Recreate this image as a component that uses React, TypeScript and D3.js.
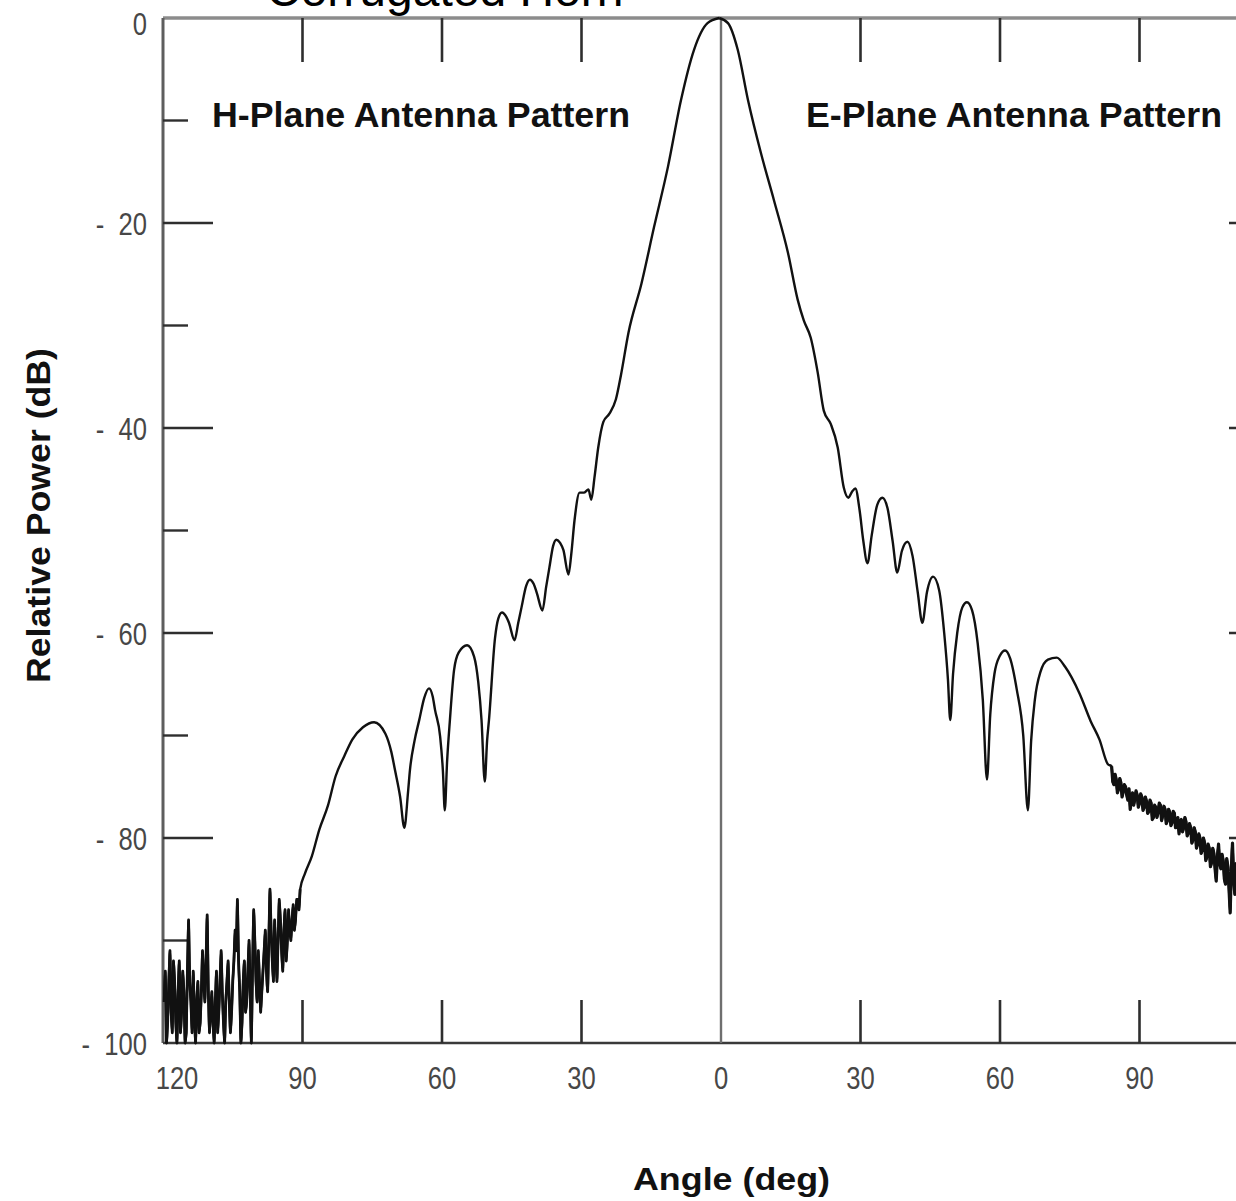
import React, { useEffect } from "react";
import * as d3 from "d3";

// H-plane pattern (left half, angles negative = H-plane side)
const hPlaneAngle = [
  -119.75, -119.5, -119.25, -119, -118.75, -118.5, -118.25, -118, -117.75, -117.5,
  -117.25, -117, -116.75, -116.5, -116.25, -116, -115.75, -115.5, -115.25, -115,
  -114.75, -114.5, -114.25, -114, -113.75, -113.5, -113.25, -113, -112.75, -112.5,
  -112.25, -112, -111.75, -111.5, -111.25, -111, -110.75, -110.5, -110.25, -110,
  -109.75, -109.5, -109.25, -109, -108.75, -108.5, -108.25, -108, -107.75, -107.5,
  -107.25, -107, -106.75, -106.5, -106.25, -106, -105.75, -105.5, -105.25, -105,
  -104.75, -104.5, -104.25, -104, -103.75, -103.5, -103.25, -103, -102.75, -102.5,
  -102.25, -102, -101.75, -101.5, -101.25, -101, -100.75, -100.5, -100.25, -100,
  -99.75, -99.5, -99.25, -99, -98.75, -98.5, -98.25, -98, -97.75, -97.5,
  -97.25, -97, -96.75, -96.5, -96.25, -96, -95.75, -95.5, -95.25, -95,
  -94.75, -94.5, -94.25, -94, -93.75, -93.5, -93.25, -93, -92.75, -92.5,
  -92.25, -92, -91.75, -91.5, -91.25, -91, -90.75, -90.5,
  -89.5, -88, -86.4, -84.5, -82.9, -81, -79.3, -77, -74.6, -72.2,
  -70.9, -70.1, -69, -68.1, -67.3, -66.9, -65.9, -64.9, -63.8, -62.8,
  -62, -61.5, -60.4, -59.8, -59.4, -58.9, -58.3, -57.4, -56.4, -54.6,
  -53.1, -52.2, -51.5, -50.8, -50.3, -49.9, -48.6, -47.9, -47.1, -46.2,
  -45.6, -44.4, -43.6, -42.9, -41.9, -41.1, -40.3, -39.6, -38.4, -37.6,
  -36.9, -36.1, -35.4, -34.6, -33.9, -32.8, -32.2, -31.5, -30.4, -29.5,
  -28.5, -27.9, -27.2, -26.4, -25.3, -24, -22.6, -21.5, -19.9, -17.1,
  -14.4, -11.4, -8.6, -5.8, -2.9, -0.4,
];
const hPlanePower = [
  -96, -93, -100, -98, -94, -91, -97, -99, -92, -94,
  -98, -100, -95, -92, -99, -97, -93, -95, -100, -99,
  -93, -88, -94, -96, -99, -93, -97, -100, -96, -94,
  -99, -98, -95, -91, -94, -96, -92, -87.5, -95, -99,
  -97, -95, -98, -100, -96, -93, -99, -97, -94, -91,
  -95, -98, -100, -96, -94, -92, -96, -99, -97, -94,
  -92, -89, -91, -86, -92, -95, -100, -98, -94, -92,
  -97, -96, -93, -90, -95, -100, -93, -87, -90, -94,
  -96, -91, -94, -97, -95, -93, -91, -89, -93, -95,
  -90, -85, -89, -92, -94, -88, -91, -94, -90, -86,
  -88, -91, -93, -89, -87, -92, -90, -87, -89, -90,
  -88, -86.5, -89, -88, -86, -86, -87, -85,
  -83.5, -81.8, -79.2, -76.8, -74.0, -72.0, -70.4, -69.2, -68.7, -69.8,
  -71.6, -73.4, -76, -79.0, -75.5, -73.4, -70.5, -68.5, -66.3, -65.4,
  -66.2, -67.5, -70.1, -73.5, -77.3, -72.5, -68.5, -63.6, -61.9, -61.2,
  -62.3, -64.8, -68.5, -74.5, -70.5, -68.5, -60.5, -58.6, -58.0, -58.4,
  -59.0, -60.7, -59.0, -57.5, -55.4, -54.8, -55.2, -56.1, -57.8, -55.5,
  -53.6, -51.5, -50.9, -51.2, -51.9, -54.3, -52.3, -49.0, -46.3, -46.3,
  -46.0, -47.0, -44.8, -41.9, -39.4, -38.6, -37.2, -34.8, -30.7, -25.9,
  -20.4, -14.5, -8.0, -3.1, -0.5, 0,
];

// E-plane pattern (right half)
const ePlaneAngle = [
  -0.4, 1.5, 3.6, 5.8, 8.6, 11.4, 14.4, 16.5, 17.8, 19.3,
  20.8, 22.1, 23.6, 25.1, 26.4, 27.4, 28.2, 28.9, 29.8, 30.6,
  31.5, 32.4, 33.6, 34.7, 35.8, 36.9, 37.9, 38.9, 40.1, 41.2,
  42.3, 43.3, 44.3, 45.6, 46.9, 48, 48.8, 49.3, 49.9, 50.8,
  51.9, 52.9, 54, 55.2, 56.3, 57.2, 57.9, 58.8, 60, 61.1,
  62.2, 63.6, 65, 66, 66.7, 67.5, 68.7, 70.3, 72.2, 74,
  77.1, 79.5, 81.4, 83.2,
  84, 84.25, 84.5, 84.75, 85, 85.25, 85.5, 85.75, 86, 86.25,
  86.5, 86.75, 87, 87.25, 87.5, 87.75, 88, 88.25, 88.5, 88.75,
  89, 89.25, 89.5, 89.75, 90, 90.25, 90.5, 90.75, 91, 91.25,
  91.5, 91.75, 92, 92.25, 92.5, 92.75, 93, 93.25, 93.5, 93.75,
  94, 94.25, 94.5, 94.75, 95, 95.25, 95.5, 95.75, 96, 96.25,
  96.5, 96.75, 97, 97.25, 97.5, 97.75, 98, 98.25, 98.5, 98.75,
  99, 99.25, 99.5, 99.75, 100, 100.25, 100.5, 100.75, 101, 101.25,
  101.5, 101.75, 102, 102.25, 102.5, 102.75, 103, 103.25, 103.5, 103.75,
  104, 104.25, 104.5, 104.75, 105, 105.25, 105.5, 105.75, 106, 106.25,
  106.5, 106.75, 107, 107.25, 107.5, 107.75, 108, 108.25, 108.5, 108.75,
  109, 109.25, 109.5, 109.75, 110, 110.25, 110.5, 110.75, 111, 111.25,
  111.5, 111.75, 112,
];
const ePlanePower = [
  0, -0.5, -3.1, -8.0, -13.2, -17.8, -22.9, -27.5, -29.5, -31.2,
  -34.6, -38.3, -39.6, -41.9, -45.8, -46.8, -46.2, -45.9, -48.0, -51,
  -53.2, -50.5, -47.5, -46.8, -47.8, -51, -54.1, -52, -51.1, -52.5,
  -56, -59.0, -56, -54.5, -55.8, -60, -64.5, -68.5, -64, -60,
  -57.5, -57.0, -57.8, -61, -66.5, -74.3, -68, -64, -62.2, -61.7,
  -62.5, -65.5, -70, -77.3, -70.5, -66.5, -63.8, -62.6, -62.4, -63.3,
  -65.9, -68.6, -70.4, -72.8,
  -73.0, -74.5, -74.8, -73.8, -74.3, -75.6, -75.2, -74.2, -74.6, -76.0,
  -75.5, -74.8, -75.0, -75.8, -76.3, -75.2, -77.2, -76.4, -75.6, -76.8,
  -76.2, -75.4, -75.8, -77.0, -76.6, -75.7, -76.0, -77.3, -77.0, -76.0,
  -76.4, -77.6, -77.4, -76.3, -76.6, -78.2, -78.0, -76.8, -77.0, -78.0,
  -77.5, -76.6, -76.8, -78.3, -77.8, -76.9, -77.2, -78.6, -78.3, -77.2,
  -77.5, -78.8, -78.5, -77.4, -77.6, -79.0, -78.9, -78.0, -79.6, -78.4,
  -78.2, -79.4, -79.0, -78.0, -78.4, -79.8, -79.5, -78.6, -79.0, -80.5,
  -80.2, -79.0, -79.4, -81.0, -80.6, -79.6, -80.0, -81.5, -81.2, -80.0,
  -80.5, -82.2, -81.8, -80.6, -81.0, -82.8, -82.4, -81.0, -81.5, -83.0,
  -84.2, -81.8, -80.6, -82.5, -83.0, -81.6, -82.2, -84.0, -84.5, -82.0,
  -82.8, -85.0, -87.3, -83.0, -80.5, -84.0, -85.5, -82.5, -83.0, -86.5,
  -86, -83.5, -84,
];

const yMajorTicks = [-20, -40, -60, -80];
const yMinorTicks = [-10, -30, -50, -70, -90];
const yTickLabels = [0, -20, -40, -60, -80, -100];
const xFrameTicks = [-90, -60, -30, 30, 60, 90];
const xTickLabels = [-120, -90, -60, -30, 0, 30, 60, 90];

const TITLE = "Corrugated Horn";
const H_LABEL = "H-Plane Antenna Pattern";
const E_LABEL = "E-Plane Antenna Pattern";
const X_TITLE = "Angle (deg)";
const Y_TITLE = "Relative Power (dB)";

export default function App() {
  useEffect(() => {
    document.body.style.margin = "0";
  }, []);

  const W = 1236;
  const H = 1201;
  const x = d3.scaleLinear().domain([-120, 120]).range([163, 1279]);
  const y = d3.scaleLinear().domain([-100, 0]).range([1043, 18]);

  const line = d3
    .line<[number, number]>()
    .x((d) => x(d[0]))
    .y((d) => y(d[1]))
    .curve(d3.curveMonotoneX);
  const noiseLine = d3
    .line<[number, number]>()
    .x((d) => x(d[0]))
    .y((d) => y(d[1]));

  const hData: [number, number][] = hPlaneAngle.map((a, i) => [a, hPlanePower[i]]);
  const eData: [number, number][] = ePlaneAngle.map((a, i) => [a, ePlanePower[i]]);
  const hNoise = hData.filter((d) => d[0] <= -90.5);
  const eNoise = eData.filter((d) => d[0] >= 84);

  const left = x(-120);
  const right = x(120);
  const top = y(0);
  const bottom = y(-100);
  const tickFont = "'Liberation Sans', Arial, Helvetica, sans-serif";
  const labelColor = "#474747";

  return (
    <svg
      width={W}
      height={H}
      style={{ position: "absolute", left: 0, top: 0, display: "block", background: "#fff" }}
    >
      <rect x={0} y={0} width={W} height={H} fill="#fff" />

      {/* title (cut off at top, as in the source) */}
      <text x={266} y={6} fontFamily={tickFont} fontSize={48} fill="#000">
        {TITLE}
      </text>

      {/* frame */}
      <line x1={left} x2={right} y1={top} y2={top} stroke="#8c8c8c" strokeWidth={3.5} />
      <line x1={left} x2={left} y1={top} y2={bottom} stroke="#5e5e5e" strokeWidth={3} />
      <line x1={left} x2={right} y1={bottom} y2={bottom} stroke="#3a3a3a" strokeWidth={2.6} />
      <line x1={right} x2={right} y1={top} y2={bottom} stroke="#5e5e5e" strokeWidth={3} />

      {/* center line at 0 deg */}
      <line x1={x(0)} x2={x(0)} y1={top} y2={bottom} stroke="#6f6f6f" strokeWidth={2.4} />

      {/* top and bottom ticks */}
      {xFrameTicks.map((t) => (
        <g key={"xt" + t}>
          <line x1={x(t)} x2={x(t)} y1={top} y2={top + 44} stroke="#2e2e2e" strokeWidth={2.6} />
          <line x1={x(t)} x2={x(t)} y1={bottom} y2={bottom - 43} stroke="#2e2e2e" strokeWidth={2.6} />
        </g>
      ))}

      {/* left / right ticks */}
      {yMajorTicks.map((t) => (
        <g key={"ym" + t}>
          <line x1={left} x2={left + 50} y1={y(t)} y2={y(t)} stroke="#2e2e2e" strokeWidth={2.4} />
          <line x1={right} x2={right - 50} y1={y(t)} y2={y(t)} stroke="#2e2e2e" strokeWidth={2.4} />
        </g>
      ))}
      {yMinorTicks.map((t) => (
        <g key={"yn" + t}>
          <line x1={left} x2={left + 25} y1={y(t)} y2={y(t)} stroke="#2e2e2e" strokeWidth={2.4} />
          <line x1={right} x2={right - 25} y1={y(t)} y2={y(t)} stroke="#2e2e2e" strokeWidth={2.4} />
        </g>
      ))}

      {/* y tick labels */}
      {yTickLabels.map((t) => (
        <text
          key={"yl" + t}
          transform={`translate(147, ${y(t) + (t === 0 ? 17 : 12)}) scale(0.8, 1)`}
          textAnchor="end"
          fontFamily={tickFont}
          fontSize={32}
          fill={labelColor}
        >
          {t === 0 ? "0" : `-\u00a0\u00a0${Math.abs(t)}`}
        </text>
      ))}

      {/* x tick labels */}
      {xTickLabels.map((t) => (
        <text
          key={"xl" + t}
          transform={`translate(${t === -120 ? 177 : x(t)}, 1089) scale(0.8, 1)`}
          textAnchor="middle"
          fontFamily={tickFont}
          fontSize={32}
          fill={labelColor}
        >
          {Math.abs(t)}
        </text>
      ))}

      {/* panel labels */}
      <text
        x={212}
        y={127}
        textLength={418}
        lengthAdjust="spacingAndGlyphs"
        fontFamily={tickFont}
        fontWeight="bold"
        fontSize={35}
        fill="#111"
      >
        {H_LABEL}
      </text>
      <text
        x={806}
        y={127}
        textLength={416}
        lengthAdjust="spacingAndGlyphs"
        fontFamily={tickFont}
        fontWeight="bold"
        fontSize={35}
        fill="#111"
      >
        {E_LABEL}
      </text>

      {/* axis titles */}
      <text
        x={633}
        y={1190}
        textLength={197}
        lengthAdjust="spacingAndGlyphs"
        fontFamily={tickFont}
        fontWeight="bold"
        fontSize={32}
        fill="#111"
      >
        {X_TITLE}
      </text>
      <text
        transform="translate(50, 683) rotate(-90)"
        textLength={335}
        lengthAdjust="spacingAndGlyphs"
        fontFamily={tickFont}
        fontWeight="bold"
        fontSize={33}
        fill="#111"
      >
        {Y_TITLE}
      </text>

      {/* pattern curves */}
      <path d={line(hData) || ""} fill="none" stroke="#111" strokeWidth={2.4} strokeLinejoin="round" />
      <path d={line(eData) || ""} fill="none" stroke="#111" strokeWidth={2.4} strokeLinejoin="round" />
      {/* measured noise floor, redrawn heavier as in the scan */}
      <path d={noiseLine(hNoise) || ""} fill="none" stroke="#111" strokeWidth={2.8} strokeLinejoin="round" />
      <path d={noiseLine(eNoise) || ""} fill="none" stroke="#111" strokeWidth={3.2} strokeLinejoin="round" />
    </svg>
  );
}
